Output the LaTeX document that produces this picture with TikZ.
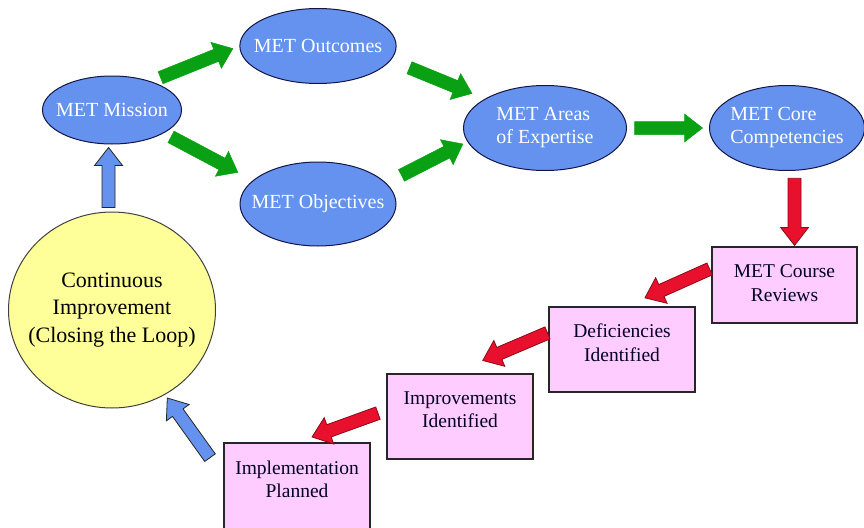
\documentclass[tikz,border=0pt]{standalone}
\usepackage{fontspec}
\setmainfont{Liberation Serif}
\usetikzlibrary{shapes.geometric,calc}

\definecolor{metblue}{RGB}{100,146,238}
\definecolor{metnavy}{RGB}{20,20,70}
\definecolor{boxpink}{RGB}{255,204,255}
\definecolor{loopyellow}{RGB}{255,255,153}
\definecolor{arrgreen}{RGB}{10,160,20}
\definecolor{arrred}{RGB}{232,16,45}

% block arrow sizes
\newcommand{\shaftw}{6.5pt}
\newcommand{\headw}{14pt}
\newcommand{\headlen}{18pt}

% [style]{from}{to}{gap at from}{gap at to}
\newcommand{\blockarrow}[5][]{%
  \path ($(#2)!#4!(#3)$) coordinate (ba-s) ($(#3)!#5!(#2)$) coordinate (ba-t);
  \path ($(ba-t)!\headlen!(ba-s)$) coordinate (ba-h);
  \draw[#1] ($(ba-s)!\shaftw!90:(ba-t)$) -- ($(ba-h)!\shaftw!-90:(ba-s)$)
    -- ($(ba-h)!\headw!-90:(ba-s)$) -- (ba-t) -- ($(ba-h)!\headw!90:(ba-s)$)
    -- ($(ba-h)!\shaftw!90:(ba-s)$) -- ($(ba-s)!\shaftw!-90:(ba-t)$) -- cycle;}

\tikzset{
  goal/.style={ellipse, draw=metnavy, line width=1pt, fill=metblue, text=white,
    inner sep=0pt, font=\fontsize{20}{23}\selectfont},
  review/.style={rectangle, draw=black!85, line width=1.2pt, fill=boxpink,
    text=black!85!blue, minimum width=146pt, minimum height=85pt, align=center,
    text depth=14pt, font=\fontsize{19.5}{23.5}\selectfont},
  greenarr/.style={fill=arrgreen, draw=arrgreen, line width=0.5pt},
  redarr/.style={fill=arrred, draw=arrred!60!black, line width=0.8pt},
  bluearr/.style={fill=metblue, draw=black!85, line width=0.8pt},
}

\begin{document}
\begin{tikzpicture}[x=1pt,y=-1pt]
\useasboundingbox (0,0) rectangle (864,527);

% Ellipses
\node[goal, minimum width=139pt, minimum height=68pt, inner xsep=-6.7pt] (mission) at (112,110) {MET Mission};
\node[goal, minimum width=156pt, minimum height=75pt, inner xsep=-8.9pt] (outcomes) at (318,46) {MET Outcomes};
\node[goal, minimum width=156pt, minimum height=84pt, inner xsep=-11.7pt] (objectives) at (318,204) {MET Objectives};
\node[goal, minimum width=163pt, minimum height=85pt, align=left] (areas) at (545,128) {MET Areas\\of Expertise};
\node[goal, minimum width=155pt, minimum height=85pt, inner xsep=-2pt, align=left] (core) at (787,128) {MET Core\\Competencies};

% Review boxes
\node[review, minimum width=145pt, minimum height=76pt, text depth=4pt] (course) at (784.5,285) {MET Course\\Reviews};
\node[review] (deficiencies) at (622,349.5) {Deficiencies\\Identified};
\node[review] (improvements) at (460,416.5) {Improvements\\Identified};
\node[review, minimum height=90pt, text depth=18pt] (implementation) at (297,488) {Implementation\\Planned};

% Loop circle
\node[ellipse, draw=black!75, line width=1pt, fill=loopyellow, minimum width=207pt,
  minimum height=196pt, inner sep=0pt, inner xsep=-11pt, align=center,
  font=\fontsize{22}{27.5}\selectfont] (loop) at (112,310)
  {Continuous\\Improvement\\(Closing the Loop)};

% Green arrows
\blockarrow[greenarr]{mission.36}{outcomes.west}{10pt}{7pt}
\blockarrow[greenarr]{mission.-24}{objectives.160}{8pt}{17pt}
\blockarrow[greenarr]{outcomes.-11}{areas.154}{20pt}{14pt}
\blockarrow[greenarr]{objectives.17}{areas.190}{17pt}{5pt}
\blockarrow[greenarr]{areas.east}{core.west}{7.5pt}{6.5pt}

% Red arrows
\blockarrow[redarr]{core.-80}{course.north -| core.-80}{7.5pt}{1pt}
\blockarrow[redarr]{course.167}{deficiencies.85}{2pt}{21pt}
\blockarrow[redarr]{deficiencies.167}{improvements.100}{1pt}{33pt}
\blockarrow[redarr]{improvements.175}{implementation.north}{9pt}{16pt}

% Blue arrows
\blockarrow[bluearr]{implementation.171}{loop.-58}{23pt}{4pt}
\blockarrow[bluearr]{loop.92}{mission.south -| loop.92}{4pt}{3pt}

\end{tikzpicture}
\end{document}
